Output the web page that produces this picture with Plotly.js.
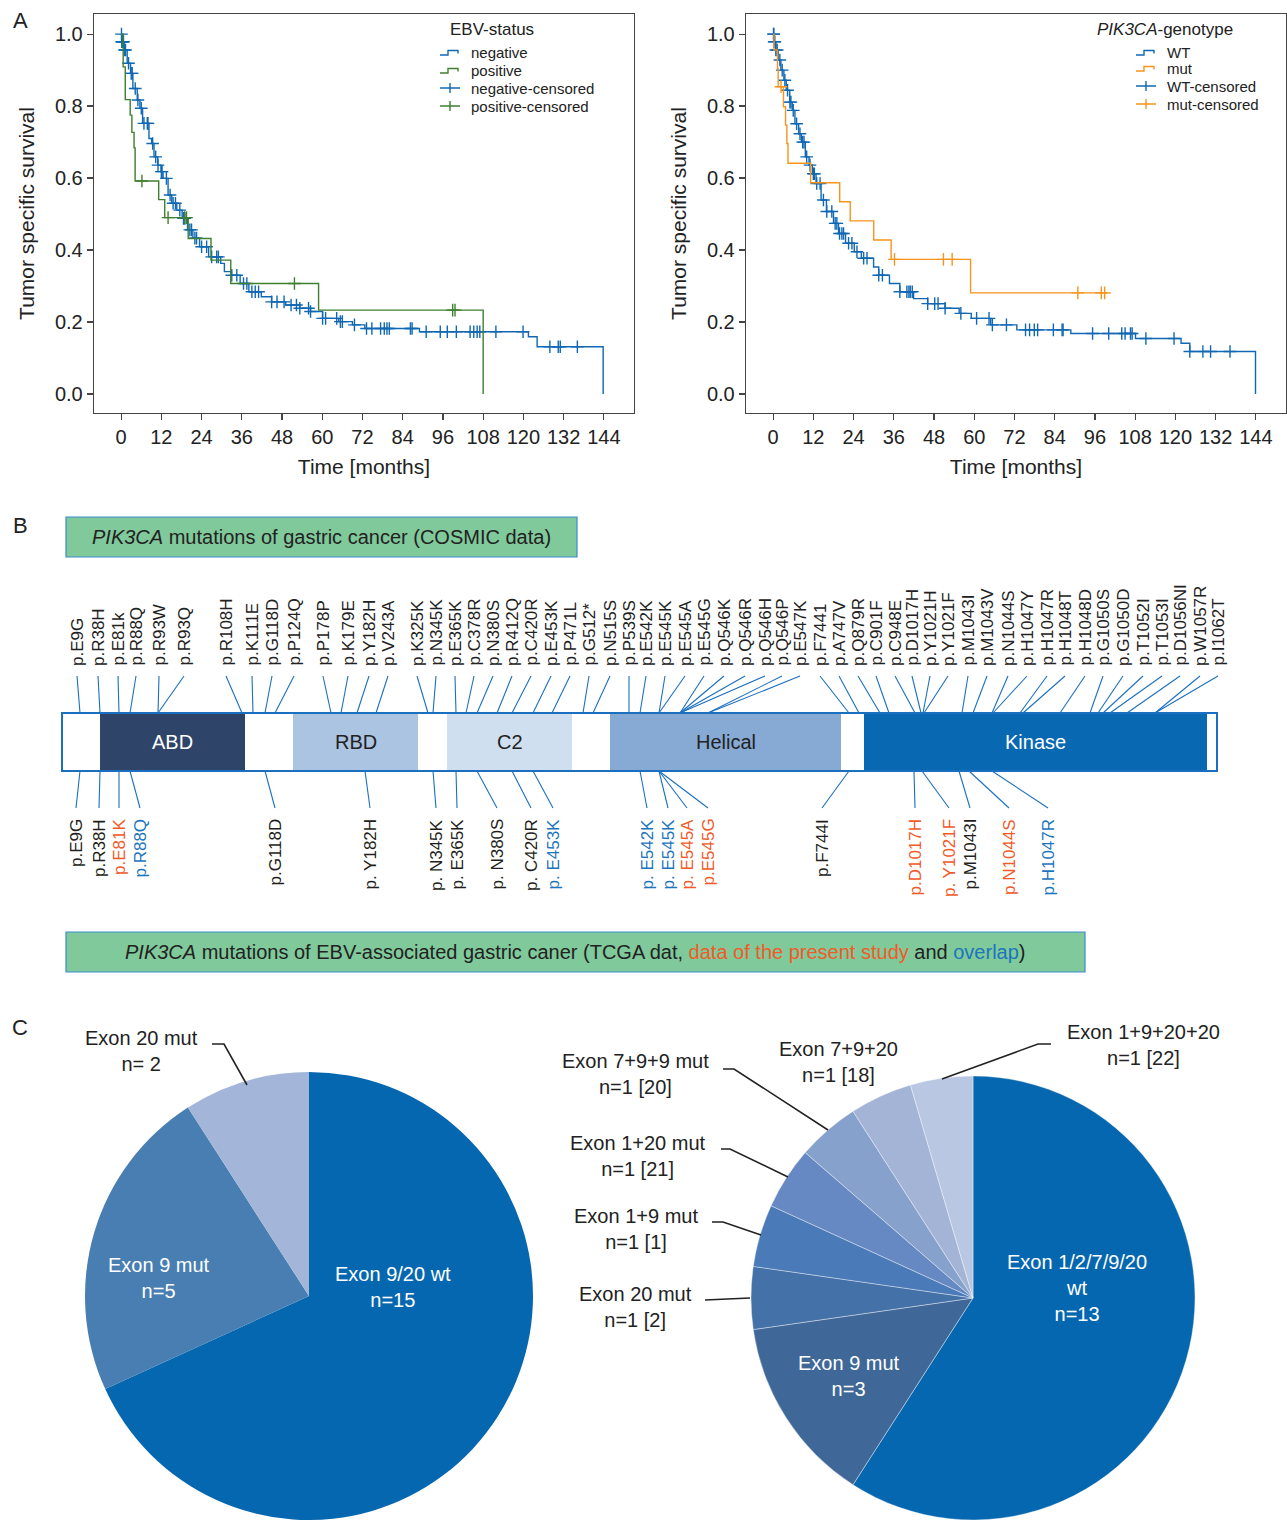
<!DOCTYPE html>
<html><head><meta charset="utf-8">
<script src="https://cdn.plot.ly/plotly-3.0.1.min.js"></script>
<style>body{margin:0;background:#fff}#chart{width:1287px;height:1520px}</style>
</head><body><div id="chart"></div>
<script>
// ---------- Panel A data: Kaplan-Meier step points (months, survival) ----------
const negT = [0,0.2,0.9,1.8,2.8,3.5,4.8,5.6,6.4,8.3,9.1,9.8,10.9,11.9,12.5,14.0,15.1,16.6,18.2,19.8,21.4,23.4,26.1,29.7,30.8,32.9,35.5,38.1,41.8,44.9,49.1,53.3,56.5,60.1,64.9,69.0,72.7,89.0,121.5,124.1,143.8];
const negS = [1.0,0.979,0.956,0.919,0.891,0.849,0.817,0.794,0.752,0.710,0.696,0.659,0.636,0.618,0.599,0.553,0.530,0.511,0.488,0.456,0.433,0.409,0.381,0.363,0.340,0.330,0.307,0.284,0.270,0.256,0.247,0.238,0.229,0.210,0.201,0.192,0.182,0.173,0.159,0.131,0.0];
const negCens = [0.1,0.2,0.3,0.5,0.7,1.0,1.3,2.2,3.0,3.3,4.2,5.0,6.0,6.8,7.8,8.0,9.4,10.3,11.0,12.0,12.2,13.5,14.6,15.5,16.2,17.5,18.6,19.0,20.5,21.0,22.0,22.5,24.0,25.5,27.0,28.5,29.0,33.0,34.5,36.5,37.5,39.0,40.0,41.0,44.9,46.5,48.6,50.7,52.3,53.3,55.9,56.5,60.1,61.0,64.3,65.4,66.0,69.6,73.2,74.8,77.4,78.5,79.3,80.0,86.3,86.8,91.0,95.2,97.3,100.0,104.1,105.2,106.2,107.0,111.8,119.9,127.9,130.4,131.0,136.1];
const posT = [0,0.6,1.23,2.7,3.2,3.85,4.17,11.2,13.0,20.0,26.8,32.7,58.9,108.0];
const posS = [1.0,0.909,0.818,0.775,0.727,0.684,0.592,0.540,0.490,0.432,0.372,0.307,0.233,0.0];
const posCens = [6.2,14.0,18.9,19.5,51.7,98.9,99.6];

const wtT = [0,0.27,0.8,1.5,2.3,3.2,3.9,4.95,5.7,6.5,7.6,8.4,9.6,10.7,11.7,12.8,14.3,15.9,18.0,19.5,21.6,24.2,26.3,29.96,31.5,34.7,37.8,41.9,46.1,51.3,55.5,59.1,64.9,72.7,88.8,108.1,121.7,124.3,143.9];
const wtS = [1.0,0.979,0.956,0.928,0.9,0.872,0.844,0.811,0.788,0.751,0.723,0.7,0.659,0.636,0.612,0.585,0.539,0.507,0.474,0.446,0.419,0.395,0.377,0.353,0.330,0.307,0.284,0.265,0.251,0.238,0.224,0.210,0.192,0.178,0.168,0.154,0.141,0.118,0.0];
const wtCens = [0.1,0.2,0.3,0.5,0.8,1.2,2.0,2.7,3.5,4.3,5.0,5.3,6.0,7.0,8.0,8.8,9.2,10.0,11.0,12.0,12.3,13.0,14.0,15.0,16.0,17.5,18.5,19.0,19.8,20.5,21.0,22.5,23.5,25.0,27.0,28.0,31.5,32.6,37.8,39.9,40.5,40.9,41.5,46.1,48.2,49.2,51.3,56.0,60.7,64.4,65.4,69.6,75.3,76.5,77.9,78.9,83.6,86.2,86.5,95.3,100.1,104.0,105.0,106.6,107.1,111.2,119.6,124.3,128.2,130.5,136.3];
const mutT = [0,0.26,1.3,1.5,3.08,3.7,4.1,4.43,11.2,19.85,23.0,30.0,35.2,58.9,99.8];
const mutS = [1.0,0.956,0.905,0.854,0.798,0.747,0.696,0.641,0.587,0.534,0.481,0.428,0.374,0.281,0.281];
const mutCens = [2.35,36.2,50.8,53.4,90.9,97.9,98.9];

const monthTicks = [0,12,24,36,48,60,72,84,96,108,120,132,144];
const survTicks = [0,0.2,0.4,0.6,0.8,1.0];
const leg1Names = ['negative','positive','negative-censored','positive-censored'];
const leg2Names = ['WT','mut','WT-censored','mut-censored'];

// ---------- Panel B data ----------
const proteinLen = 1155; // schematic length of the bar
const domName  = ['ABD','RBD','C2','Helical','Kinase'];
const domStart = [38,231,385,548,802];
const domEnd   = [183,356,510,779,1145];
const topLabels = ['p.E9G','p.R38H','p.E81k','p.R88Q','p.R93W','p.R93Q','p.R108H','p.K111E','p.G118D','p.P124Q','p.P178P','p.K179E','p.Y182H','p.V243A','p.K325K','p.N345K','p.E365K','p.C378R','p.N380S','p.R412Q','p.C420R','p.E453K','p.P471L','p.G512*','p.N515S','p.P539S','p.E542K','p.E545K','p.E545A','p.E545G','p.Q546K','p.Q546R','p.Q546H','p.Q546P','p.E547K','p.F7441','p.A747V','p.Q879R','p.C901F','p.C948E','p.D1017H','p.Y1021H','p.Y1021F','p.M1043I','p.M1043V','p.N1044S','p.H1047Y','p.H1047R','p.H1048T','p.H1048D','p.G1050S','p.G1050D','p.T1052I','p.T1053I','p.D1056NI','p.W1057R','p.I1062T'];
const topSite = [18,38,57,68,96,96,180,191,203,213,269,279,295,314,366,371,394,404,415,435,450,471,490,521,531,567,578,597,597,618,618,618,618,646,646,787,797,818,827,853,859,861,862,900,911,930,931,958,961,998,1028,1036,1041,1048,1065,1093,1093];
const botLabels = ['p.E9G','p.R38H','p.E81K','p.R88Q','p.G118D','p. Y182H','p. N345K','p. E365K','p. N380S','p. C420R','p. E453K','p. E542K','p. E545K','p. E545A','p.E545G','p.F744I','p.D1017H','p. Y1021F','p.M1043I','p.N1044S','p.H1047R'];
const botSource = ['TCGA','TCGA','present','overlap','TCGA','TCGA','TCGA','TCGA','TCGA','TCGA','overlap','overlap','overlap','present','present','TCGA','present','present','TCGA','present','overlap'];
const botSite = [18,38,57,68,203,303,371,394,415,450,471,578,597,597,597,787,852,860,897,907,930];

// ---------- Panel C data ----------
const pieLLabels = ['Exon 9/20 wt','Exon 9 mut','Exon 20 mut'];
const pieLValues = [15,5,2];
const pieRLabels = ['Exon 1/2/7/9/20 wt','Exon 9 mut','Exon 20 mut','Exon 1+9 mut','Exon 1+20 mut','Exon 7+9+9 mut','Exon 7+9+20','Exon 1+9+20+20'];
const pieRValues = [13,3,1,1,1,1,1,1];
const pieRRefs   = ['','','[2]','[1]','[21]','[20]','[18]','[22]'];

// ---------- styles / layout helpers ----------
const W=1287, H=1520;
const FONT='Liberation Sans, Arial, sans-serif';
const BLUE='#1068b4', GREEN='#3f7f2f', ORANGE='#f7941d';
const LINEBLUE='#1a6fc0';
const srcColor = {TCGA:'#231f20', present:'#f15a29', overlap:'#1c75bc'};
const domColor = ['#2e4468','#abc4e2','#cfdff0','#87aad5','#0868b2'];
const domText  = ['#ffffff','#222222','#222222','#222222','#ffffff'];
const barX0 = 62;           // page x of residue 0 (layout)
const barTop=713, barBot=771;
const topLabelPx=[77,98,118,136,159,184,226,252,272,294,323,348,369,388,417,436,455,474,493,512,531,551,570,589,610,629,646,665,685,704,724,745,765,782,800,820,839,858,876,895,912,930,948,968,987,1008,1027,1047,1065,1085,1103,1123,1143,1162,1180,1200,1218];
const botLabelPx=[76,99,119,140,275,370,436,457,497,531,553,647,668,687,708,822,915,949,970,1009,1048];

function survAt(T,S,t){let s=S[0];for(let i=0;i<T.length;i++){if(T[i]<=t)s=S[i];}return s;}

const traces=[];
function km(T,S,cens,color,xa,ya){
  traces.push({x:T,y:S,mode:'lines',line:{shape:'hv',color:color,width:1.4},xaxis:xa,yaxis:ya,showlegend:false,hoverinfo:'skip'});
  traces.push({x:cens,y:cens.map(t=>survAt(T,S,t)),mode:'markers',marker:{symbol:'cross-thin',size:9,color:color,line:{color:color,width:1.4}},xaxis:xa,yaxis:ya,showlegend:false,hoverinfo:'skip'});
}
km(negT,negS,negCens,BLUE,'x','y');
km(posT,posS,posCens,GREEN,'x','y');
km(wtT,wtS,wtCens,BLUE,'x2','y2');
km(mutT,mutS,mutCens,ORANGE,'x2','y2');

// Panel B connector lines
const lx=[],ly=[];
topSite.forEach((s,i)=>{lx.push(topLabelPx[i],barX0+s,null);ly.push(676,barTop,null);});
botSite.forEach((s,i)=>{lx.push(barX0+s,botLabelPx[i],null);ly.push(barBot,808,null);});
traces.push({x:lx,y:ly,mode:'lines',line:{color:LINEBLUE,width:1.1},xaxis:'x3',yaxis:'y3',showlegend:false,hoverinfo:'skip'});

// Pies
traces.push({type:'pie',labels:pieLLabels,values:pieLValues,sort:false,direction:'clockwise',rotation:0,
  marker:{colors:['#0667b1','#487eb1','#a3b6da'],line:{width:0}},textinfo:'none',hoverinfo:'skip',showlegend:false,
  domain:{x:[(309-224)/W,(309+224)/W],y:[0,448/H]}});
traces.push({type:'pie',labels:pieRLabels,values:pieRValues,sort:false,direction:'clockwise',rotation:0,
  marker:{colors:['#0667b1','#3f6899','#4471a8','#4a7ab8','#6689c4','#86a1cc','#a3b4d7','#bac7e2'],line:{width:0.7,color:'rgba(255,255,255,0.55)'}},
  textinfo:'none',hoverinfo:'skip',showlegend:false,
  domain:{x:[(973-222)/W,(973+222)/W],y:[0,444/H]}});

const shapes=[], ann=[];
// ---- custom legends (panel A) ----
function legend(title,names,colors,titleX,iconX,ys){
  ann.push({xref:'x3',yref:'y3',x:titleX,y:29,text:title,showarrow:false,font:{family:FONT,size:17,color:'#222'}});
  names.forEach((n,i)=>{
    const y=ys[i], c=colors[i];
    let p;
    if(i<2) p=`M${iconX},${y+3}L${iconX+8},${y+3}L${iconX+8},${y-1.5}L${iconX+18},${y-1.5}L${iconX+18},${y+1.5}`;
    else p=`M${iconX},${y}L${iconX+20},${y}M${iconX+10},${y-5}L${iconX+10},${y+5}`;
    shapes.push({type:'path',xref:'x3',yref:'y3',path:p,line:{color:c,width:1.4},layer:'above'});
    ann.push({xref:'x3',yref:'y3',x:iconX+29,y:y,text:n,showarrow:false,xanchor:'left',font:{family:FONT,size:15,color:'#222'}});
  });
}
legend('EBV-status',leg1Names,[BLUE,GREEN,BLUE,GREEN],492,440,[52,70,88,106]);
legend('<i>PIK3CA</i>-genotype',leg2Names,[BLUE,ORANGE,BLUE,ORANGE],1165,1136,[52,68,86,104]);

// protein bar
shapes.push({type:'rect',xref:'x3',yref:'y3',x0:barX0,x1:barX0+proteinLen,y0:barTop,y1:barBot,fillcolor:'#fff',line:{width:0},layer:'above'});
domName.forEach((d,i)=>{
  shapes.push({type:'rect',xref:'x3',yref:'y3',x0:barX0+domStart[i],x1:barX0+domEnd[i],y0:barTop,y1:barBot,fillcolor:domColor[i],line:{width:0},layer:'above'});
  ann.push({xref:'x3',yref:'y3',x:barX0+(domStart[i]+domEnd[i])/2,y:(barTop+barBot)/2,text:d,showarrow:false,font:{family:FONT,size:20,color:domText[i]}});
});
shapes.push({type:'rect',xref:'x3',yref:'y3',x0:barX0,x1:barX0+proteinLen,y0:barTop,y1:barBot,fillcolor:'rgba(0,0,0,0)',line:{color:LINEBLUE,width:2},layer:'above'});
topLabels.forEach((t,i)=>ann.push({xref:'x3',yref:'y3',x:topLabelPx[i],y:668,text:t,textangle:-90,showarrow:false,xanchor:'center',yanchor:'bottom',font:{family:FONT,size:17,color:'#222'}}));
botLabels.forEach((t,i)=>ann.push({xref:'x3',yref:'y3',x:botLabelPx[i],y:817,text:t,textangle:-90,showarrow:false,xanchor:'center',yanchor:'top',font:{family:FONT,size:17,color:srcColor[botSource[i]]}}));

// green title boxes
function gbox(x0,y0,x1,y1,text){
  shapes.push({type:'rect',xref:'x3',yref:'y3',x0:x0,x1:x1,y0:y0,y1:y1,fillcolor:'#80c99b',line:{color:'#3d8bc9',width:1.2},layer:'above'});
  ann.push({xref:'x3',yref:'y3',x:(x0+x1)/2,y:(y0+y1)/2,text:text,showarrow:false,font:{family:FONT,size:20,color:'#222'}});
}
gbox(66,517,577,557,'<i>PIK3CA</i> mutations of gastric cancer (COSMIC data)');
gbox(66,932,1085,972,'<i>PIK3CA</i> mutations of EBV-associated gastric caner (TCGA dat, <span style="color:#f15a29">data of the present study</span> and <span style="color:#1c75bc">overlap</span>)');

// panel letters
[['A',20,20],['B',20,525],['C',20,1027]].forEach(p=>ann.push({xref:'x3',yref:'y3',x:p[1],y:p[2],text:p[0],showarrow:false,font:{family:FONT,size:22,color:'#222'}}));

// pie labels
const pf={family:FONT,size:20};
function plab(x,y,text,color){ann.push({xref:'x3',yref:'y3',x:x,y:y,text:text,showarrow:false,font:Object.assign({color:color},pf)});}
plab(393,1287,pieLLabels[0]+'<br>n='+pieLValues[0],'#fff');
plab(159,1278,pieLLabels[1]+'<br>n='+pieLValues[1],'#fff');
plab(141,1051,pieLLabels[2]+'<br>n= '+pieLValues[2],'#222');
plab(1077,1288,'Exon 1/2/7/9/20<br>wt<br>n='+pieRValues[0],'#fff');
plab(849,1376,pieRLabels[1]+'<br>n='+pieRValues[1],'#fff');
const rPos=[null,null,[635,1307],[636,1229],[638,1156],[635,1074],[838,1062],[1143,1045]];
for(let i=2;i<8;i++) plab(rPos[i][0],rPos[i][1],pieRLabels[i]+'<br>n='+pieRValues[i]+' '+pieRRefs[i],'#222');
const leaders=['M212,1044L224,1044L247,1085','M1051,1044L1038,1044L942,1079','M723,1069L734,1069L828,1130','M721,1149L730,1149L788,1177','M712,1222L723,1222L761,1235','M705,1300L750,1298'];
leaders.forEach(p=>shapes.push({type:'path',xref:'x3',yref:'y3',path:p,line:{color:'#222',width:1.6},layer:'above'}));

const axBase={showline:true,mirror:true,linecolor:'#444',linewidth:1.3,ticks:'outside',ticklen:6,tickwidth:1.3,tickcolor:'#444',showgrid:false,zeroline:false,tickfont:{family:FONT,size:20,color:'#222'},fixedrange:true};
const xa=(dom,anchor)=>Object.assign({},axBase,{domain:dom,anchor:anchor,range:[-8.1,153],tickvals:monthTicks,title:{text:'Time [months]',font:{family:FONT,size:21,color:'#222'},standoff:12}});
const ya=(anchor)=>Object.assign({},axBase,{domain:[1-413/H,1-14/H],anchor:anchor,range:[-0.053,1.056],tickvals:survTicks,ticktext:survTicks.map(v=>v.toFixed(1)),title:{text:'Tumor specific survival',font:{family:FONT,size:21,color:'#222'},standoff:14}});

const layout={
  width:W,height:H,margin:{l:0,r:0,t:0,b:0},paper_bgcolor:'#fff',plot_bgcolor:'rgba(0,0,0,0)',
  font:{family:FONT,color:'#222'},showlegend:false,
  xaxis:xa([94/W,634/W],'y'), yaxis:ya('x'),
  xaxis2:xa([746/W,1286/W],'y2'), yaxis2:ya('x2'),
  xaxis3:{domain:[0,1],range:[0,W],visible:false,anchor:'y3',fixedrange:true},
  yaxis3:{domain:[0,1],range:[H,0],visible:false,anchor:'x3',fixedrange:true},
  shapes:shapes, annotations:ann
};
Plotly.newPlot('chart',traces,layout,{staticPlot:true});
</script></body></html>
